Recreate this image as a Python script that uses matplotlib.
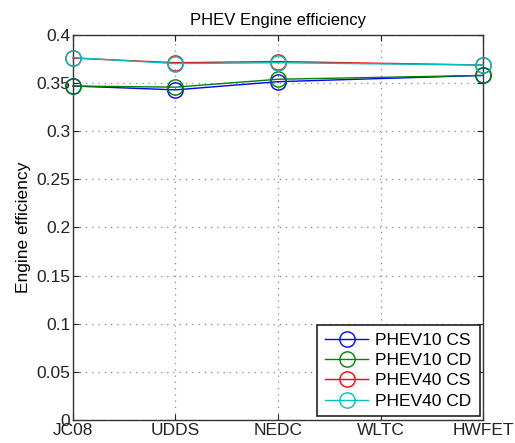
import matplotlib.pyplot as plt
import numpy as np

cycles = ['JC08', 'UDDS', 'NEDC', 'WLTC', 'HWFET']
# WLTC has no data for these runs
cycle_idx = [1, 2, 3, 5]
phev10_cs = [0.347, 0.343, 0.3515, 0.358]
phev10_cd = [0.347, 0.3458, 0.354, 0.358]
phev40_cs = [0.376, 0.3712, 0.3724, 0.3688]
phev40_cd = [0.3765, 0.3703, 0.3712, 0.3688]

series = [
    ('PHEV10 CS', phev10_cs, '#0000ff'),
    ('PHEV10 CD', phev10_cd, '#008000'),
    ('PHEV40 CS', phev40_cs, '#ff0000'),
    ('PHEV40 CD', phev40_cd, '#00bfbf'),
]

plt.rcParams['font.family'] = ['Liberation Sans', 'DejaVu Sans']

fig = plt.figure(figsize=(5.15, 4.43), dpi=100)
ax = fig.add_axes([0.1417, 0.052, 0.7963, 0.869])

for name, vals, col in series:
    ax.plot(cycle_idx, vals, color=col, linewidth=1.0, marker='o', markersize=11,
            markerfacecolor='none', markeredgecolor=col, markeredgewidth=1.0,
            label=name, clip_on=False, zorder=3)

ax.set_xlim(1, 5)
ax.set_ylim(0, 0.4)
ax.set_xticks(range(1, 6))
ax.set_xticklabels(cycles)
ax.set_yticks(np.arange(0, 0.401, 0.05))
ax.set_yticklabels(['0', '0.05', '0.1', '0.15', '0.2', '0.25', '0.3', '0.35', '0.4'])
ax.tick_params(direction='in', top=True, right=True, labelsize=12.5, length=4,
               pad=2, colors='#222222')
ax.grid(True, linestyle=(0, (1, 4)), color='#888888', linewidth=0.9)
for s in ax.spines.values():
    s.set_linewidth(1.0)
    s.set_color('#333333')

ax.set_ylabel('Engine efficiency', fontsize=12.5, labelpad=4)
ax.set_title('PHEV Engine efficiency', fontsize=12, pad=7)

leg = ax.legend(loc='lower right', fontsize=12.5, fancybox=False, framealpha=1,
                edgecolor='#222222', borderpad=0.45, labelspacing=0.3, handlelength=2.5,
                handletextpad=0.4, borderaxespad=0.2)
leg.get_frame().set_linewidth(1.2)

fig.savefig('out.png', dpi=100)
